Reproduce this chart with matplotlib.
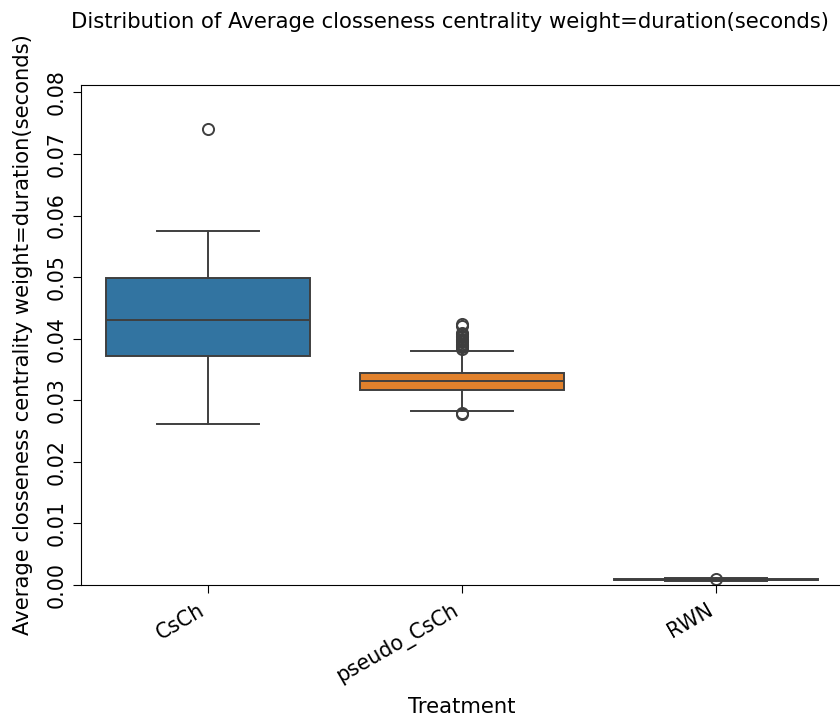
import matplotlib.pyplot as plt

# box statistics
treatments = ['CsCh', 'pseudo_CsCh', 'RWN']
q1 = [0.0372, 0.0317, 0.00075]
med = [0.0431, 0.0331, 0.00085]
q3 = [0.0498, 0.0344, 0.00098]
whislo = [0.0261, 0.0282, 0.00062]
whishi = [0.0575, 0.0380, 0.00112]
fliers = [
    [0.0741],
    [0.0277, 0.0279, 0.0384, 0.0386, 0.0388, 0.0390, 0.0392, 0.0394, 0.0396,
     0.0398, 0.0400, 0.0402, 0.0404, 0.0407, 0.0410, 0.0421, 0.0424],
    [0.00098],
]
colors = ['#3274a1', '#e1812c', '#3a923a']

fs = 15.2
tfs = 14.8
fig = plt.figure(figsize=(8.4, 7.2), dpi=100)
ax = fig.add_axes([81/840, 1 - 585/720, (843 - 81)/840, (585 - 85)/720])

stats = []
for i, t in enumerate(treatments):
    stats.append({'label': t, 'med': med[i], 'q1': q1[i], 'q3': q3[i],
                  'whislo': whislo[i], 'whishi': whishi[i], 'fliers': fliers[i]})

lc = '#3f3f3f'
bp = ax.bxp(stats, positions=range(len(treatments)), widths=0.8, patch_artist=True,
            boxprops=dict(edgecolor=lc, linewidth=1.4),
            medianprops=dict(color=lc, linewidth=1.4),
            whiskerprops=dict(color=lc, linewidth=1.4),
            capprops=dict(color=lc, linewidth=1.4),
            flierprops=dict(marker='o', markerfacecolor='none', markeredgecolor=lc,
                            markersize=8, markeredgewidth=1.4))
for patch, c in zip(bp['boxes'], colors):
    patch.set_facecolor(c)
for cap in bp['caps']:
    x = cap.get_xdata()
    mid = (x[0] + x[1]) / 2
    cap.set_xdata([mid - 0.2, mid + 0.2])

ax.set_xlim(-0.5, 2.5)
ax.set_ylim(0, 0.0812)
ax.set_yticks([0.00, 0.01, 0.02, 0.03, 0.04, 0.05, 0.06, 0.07, 0.08])
ax.set_yticklabels(['0.00', '0.01', '0.02', '0.03', '0.04', '0.05', '0.06', '0.07', '0.08'],
                   rotation=90, va='center', fontsize=tfs)
ax.set_xticks(range(len(treatments)))
ax.set_xticklabels(treatments, rotation=30, ha='right', fontsize=tfs)
ax.tick_params(length=5.5, pad=5)
ax.set_xlabel('Treatment', fontsize=fs)
ax.xaxis.set_label_coords(462/840, 1 - 697/720, transform=fig.transFigure)
ax.set_ylabel('Average closseness centrality weight=duration(seconds)', fontsize=fs)
ax.yaxis.set_label_coords(33/840, 1 - 335/720, transform=fig.transFigure)
fig.text(450/840, 1 - 22/720, 'Distribution of Average closseness centrality weight=duration(seconds)',
         ha='center', va='center', fontsize=fs)

fig.savefig('out.png', dpi=100)
